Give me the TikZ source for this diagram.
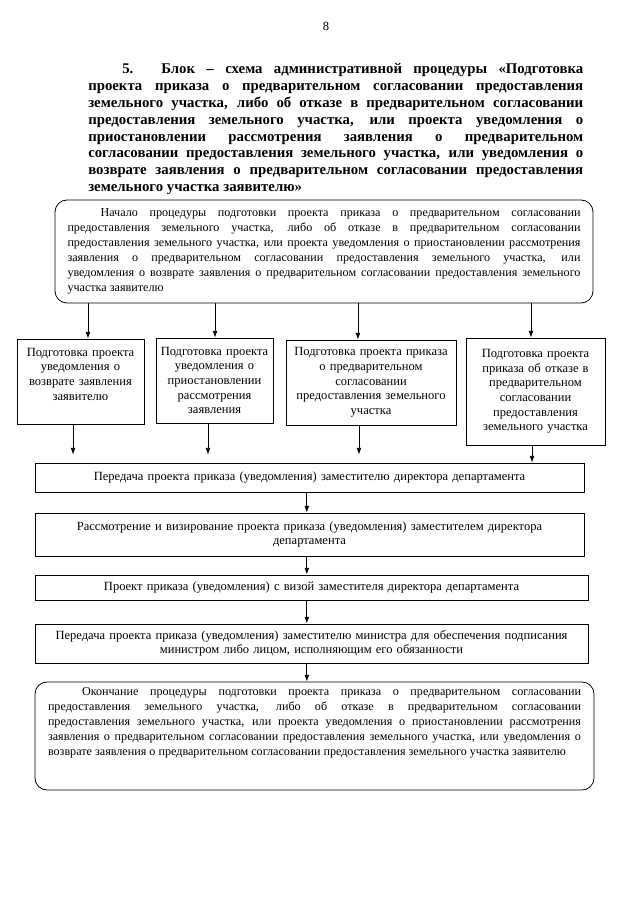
\documentclass[tikz,border=0pt]{standalone}
\usepackage{fontspec}
\setmainfont{Liberation Serif}
\usetikzlibrary{arrows.meta}
\tolerance=9999
\hbadness=10000
\newcommand\boxfont{\fontsize{9.4pt}{11pt}\selectfont}
\newcommand\parafont{\fontsize{9.1pt}{11.25pt}\selectfont}
\tikzset{
  every node/.style={inner sep=0pt},
  blockbox/.style={draw, line width=0.6pt, align=center, font=\boxfont},
  roundbox/.style={blockbox, rounded corners=9pt, align=justify, font=\parafont},
  arr/.style={-{Latex[length=5pt,width=3.6pt]}, line width=0.6pt},
}
\begin{document}
\begin{tikzpicture}[x=0.75pt, y=-0.75pt]
      \useasboundingbox (0,0) rectangle (640,905);
      \node[font=\boxfont] (page) at (326,26) {8};
      \node[anchor=base west, text width=371.25pt, align=justify,
        font=\fontsize{11.1pt}{12.6pt}\selectfont\bfseries] (title) at (88,74)
        {\hspace*{25.5pt}5. Блок – схема административной процедуры «Подготовка\linebreak
        проекта приказа о предварительном согласовании предоставления\linebreak
        земельного участка, либо об отказе в предварительном согласовании\linebreak
        предоставления земельного участка, или проекта уведомления о\linebreak
        приостановлении рассмотрения заявления о предварительном\linebreak
        согласовании предоставления земельного участка, или уведомления о\linebreak
        возврате заявления о предварительном согласовании предоставления\linebreak
        земельного участка заявителю»};
      \node[roundbox, minimum width=403.5pt, minimum height=77.25pt, text width=384.75pt]
        (start) at (324,251.5)
        {\hspace*{24.75pt}Начало процедуры подготовки проекта приказа о предварительном согласовании\linebreak
        предоставления земельного участка, либо об отказе в предварительном согласовании\linebreak
        предоставления земельного участка, или проекта уведомления о приостановлении рассмотрения\linebreak
        заявления о предварительном согласовании предоставления земельного участка, или\linebreak
        уведомления о возврате заявления о предварительном согласовании предоставления земельного\linebreak
        участка заявителю};
      \node[blockbox, minimum width=95.25pt, minimum height=63.75pt, text width=92pt]
        (A) at (80.5,381.5)
        {Подготовка проекта\\ уведомления о\\ возврате заявления\\ заявителю\\ \mbox{}};
      \node[blockbox, minimum width=87.75pt, minimum height=63.75pt, text width=86pt]
        (B) at (214.5,380.5)
        {Подготовка проекта\\ уведомления о\\ приостановлении\\ рассмотрения\\ заявления};
      \node[blockbox, minimum width=127.5pt, minimum height=63.75pt, text width=125pt]
        (C) at (371,382.5)
        {Подготовка проекта приказа\\ о предварительном\\ согласовании\\ предоставления земельного\\ участка};
      \node[blockbox, minimum width=104.25pt, minimum height=80.25pt, text width=101pt]
        (D) at (535.5,391.5)
        {Подготовка проекта\\ приказа об отказе в\\ предварительном\\ согласовании\\ предоставления\\ земельного участка};
      \node[blockbox, minimum width=411.75pt, minimum height=21.75pt, text width=405pt]
        (T1) at (309.5,477.5)
        {Передача проекта приказа (уведомления) заместителю директора департамента};
      \node[blockbox, minimum width=411.75pt, minimum height=32.25pt, text width=405pt]
        (T2) at (309.5,534.5)
        {Рассмотрение и визирование проекта приказа (уведомления) заместителем директора\\ департамента};
      \node[blockbox, minimum width=414.75pt, minimum height=18.75pt, text width=405pt]
        (T3) at (311.5,587.5)
        {Проект приказа (уведомления) с визой заместителя директора департамента};
      \node[blockbox, minimum width=414.75pt, minimum height=29.25pt, text width=410pt]
        (T4) at (311.5,643.5)
        {Передача проекта приказа (уведомления) заместителю министра для обеспечения подписания\\ министром либо лицом, исполняющим его обязанности};
      \node[roundbox, minimum width=419.25pt, minimum height=81pt, text width=399.75pt]
        (finish) at (314.5,736)
        {\hspace*{25.5pt}Окончание процедуры подготовки проекта приказа о предварительном согласовании\linebreak
        предоставления земельного участка, либо об отказе в предварительном согласовании\linebreak
        предоставления земельного участка, или проекта уведомления о приостановлении рассмотрения\linebreak
        заявления о предварительном согласовании предоставления земельного участка, или уведомления о\linebreak
        возврате заявления о предварительном согласовании предоставления земельного участка заявителю\\[11pt]\mbox{}};
      \foreach \n/\dx in {A/5.6,B/0.4,C/-9.8,D/-3.4}{
        \coordinate (\n-in) at ([xshift=\dx pt]\n.north);
        \draw[arr] (\n-in |- start.south) -- (\n-in);
      }
      \foreach \n/\dx/\gap in {A/-5.6/6pt,B/-4.9/6pt,C/-9/6pt,D/-2.6/0pt}{
        \coordinate (\n-out) at ([xshift=\dx pt]\n.south);
        \draw[arr, shorten >=\gap] (\n-out) -- (\n-out |- T1.north);
      }
      \begin{scope}[arr]
        \draw ([xshift=-2pt]T1.south) -- ([xshift=-2pt]T1.south |- T2.north);
        \draw ([xshift=-2pt]T2.south) -- ([xshift=-2pt]T2.south |- T3.north);
        \draw ([xshift=-3.5pt]T3.south) -- ([xshift=-3.5pt]T3.south |- T4.north);
        \draw ([xshift=-3.5pt]T4.south) -- ([xshift=-3.5pt]T4.south |- finish.north);
      \end{scope}
    \end{tikzpicture}
\end{document}
